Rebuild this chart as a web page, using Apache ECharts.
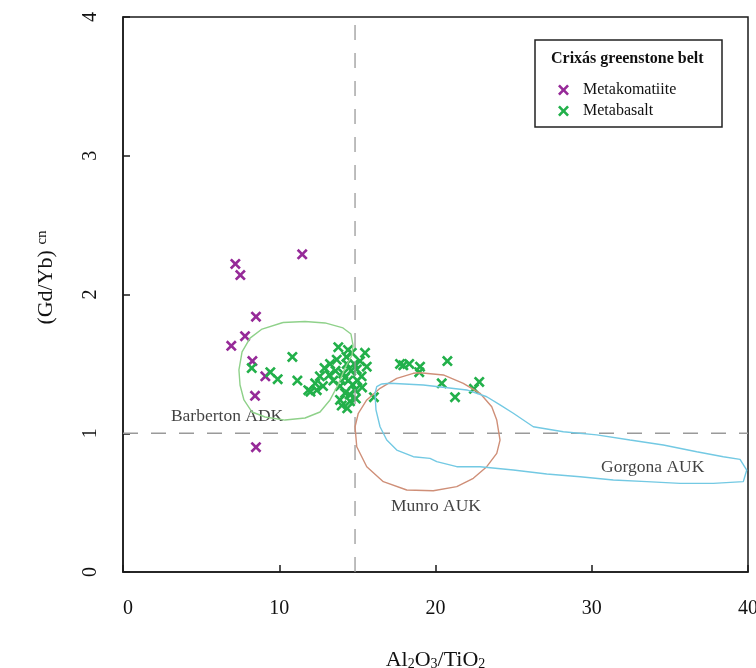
<!DOCTYPE html>
<html>
<head>
<meta charset="utf-8">
<script src="https://cdn.jsdelivr.net/npm/echarts@6/dist/echarts.min.js"></script>
<style>html,body{margin:0;padding:0;background:#fff}#c{width:756px;height:668px}</style>
</head>
<body>
<div id="c"></div>
<script>
// ---- data ----
const xTicks = [0, 10, 20, 30, 40];
const yTicks = [0, 1, 2, 3, 4];
const metakomatiite = [
  [11.47, 2.29], [7.19, 2.22], [7.51, 2.14], [8.51, 1.84], [7.81, 1.70],
  [6.93, 1.63], [8.28, 1.52], [9.11, 1.41], [8.45, 1.27], [8.51, 0.90]
];
const metabasalt = [
  [8.24, 1.47], [9.43, 1.44], [9.90, 1.39], [10.84, 1.55], [11.16, 1.38], [11.86, 1.31],
  [12.00, 1.30], [12.30, 1.36], [12.40, 1.31], [12.60, 1.41], [12.80, 1.34], [12.90, 1.47],
  [13.25, 1.50], [13.46, 1.38], [13.68, 1.53], [13.78, 1.62], [13.89, 1.34], [13.89, 1.24],
  [14.00, 1.20], [14.10, 1.43], [14.21, 1.29], [14.32, 1.50], [14.42, 1.38], [14.53, 1.23],
  [14.64, 1.58], [14.85, 1.31], [14.96, 1.46], [15.17, 1.52], [15.27, 1.41], [15.49, 1.58],
  [15.60, 1.48], [14.30, 1.55], [14.60, 1.45], [14.70, 1.35], [14.20, 1.40], [14.50, 1.28],
  [13.60, 1.45], [15.00, 1.38], [14.80, 1.50], [14.40, 1.60], [15.30, 1.33], [13.20, 1.42],
  [14.90, 1.25], [14.35, 1.18], [16.06, 1.26], [17.73, 1.50], [17.94, 1.49], [18.32, 1.50],
  [19.01, 1.48], [18.96, 1.44], [20.76, 1.52], [20.40, 1.36], [21.25, 1.26], [22.80, 1.37],
  [22.46, 1.32]
];
const barbertonADK = [
  [10.24, 1.798], [11.65, 1.805], [12.93, 1.795], [14.08, 1.759], [14.59, 1.715], [14.72, 1.636],
  [14.66, 1.564], [14.21, 1.470], [13.76, 1.348], [13.25, 1.240], [12.61, 1.153], [11.65, 1.110],
  [10.37, 1.095], [9.09, 1.117], [8.26, 1.153], [7.74, 1.240], [7.49, 1.348], [7.42, 1.456],
  [7.62, 1.586], [8.13, 1.686], [8.90, 1.751], [10.24, 1.798]
];
const munroAUK = [
  [19.01, 1.436], [20.50, 1.420], [21.78, 1.360], [22.85, 1.288], [23.60, 1.191], [23.92, 1.095],
  [24.13, 0.951], [23.92, 0.855], [23.28, 0.759], [22.42, 0.675], [21.36, 0.615], [19.86, 0.586],
  [18.16, 0.591], [16.66, 0.651], [15.60, 0.759], [14.96, 0.903], [14.85, 1.047], [15.06, 1.144],
  [15.60, 1.240], [16.45, 1.324], [17.52, 1.396], [18.58, 1.432], [19.01, 1.436]
];
const gorgonaAUK = [
  [16.56, 1.355], [17.09, 1.360], [19.22, 1.348], [22.00, 1.312], [23.28, 1.263], [24.13, 1.204],
  [24.98, 1.144], [26.26, 1.047], [28.18, 1.011], [30.32, 0.988], [32.45, 0.951], [34.58, 0.915],
  [36.72, 0.867], [38.42, 0.831], [39.49, 0.812], [39.92, 0.735], [39.70, 0.651], [37.78, 0.639],
  [35.65, 0.639], [33.52, 0.651], [31.38, 0.663], [29.25, 0.687], [27.12, 0.706], [24.98, 0.735],
  [22.85, 0.759], [21.36, 0.759], [20.08, 0.795], [19.65, 0.819], [18.58, 0.831], [17.52, 0.879],
  [16.88, 0.951], [16.45, 1.047], [16.19, 1.168], [16.13, 1.288], [16.24, 1.336], [16.56, 1.355]
];
const fieldLabels = [
  { name: 'Barberton ADK', value: [6.66, 1.12] },
  { name: 'Munro AUK', value: [20.03, 0.476] },
  { name: 'Gorgona AUK', value: [33.90, 0.755] }
];
const refX = 14.85;
const refY = 1;

// ---- chart ----
const SERIF = '"Liberation Serif", "DejaVu Serif", serif';
const X_PATH = 'path://M0,17L17,0L50,33L83,0L100,17L67,50L100,83L83,100L50,67L17,100L0,83L33,50Z';
const PURPLE = '#962a98';
const GREEN = '#22b04a';

const chart = echarts.init(document.getElementById('c'), null, { renderer: 'canvas' });
chart.setOption({
  animation: false,
  backgroundColor: '#ffffff',
  grid: {
    left: 123, right: 8, top: 17, bottom: 96, show: true, borderColor: '#1a1a1a', borderWidth: 1.5,
    outerBoundsMode: 'none', containLabel: false
  },
  xAxis: {
    type: 'value', min: xTicks[0], max: xTicks[xTicks.length - 1], interval: 10,
    splitLine: { show: false },
    axisLine: { show: true, lineStyle: { color: '#1a1a1a', width: 1.5 } },
    axisTick: { show: true, inside: true, length: 7, lineStyle: { color: '#1a1a1a', width: 1.5 } },
    axisLabel: { fontFamily: SERIF, fontSize: 20, color: '#111', margin: 27, alignMinLabel: 'left' },
    name: 'Al{sub|2}O{sub|3}/TiO{sub|2}', nameLocation: 'middle', nameGap: 77,
    nameTextStyle: {
      fontFamily: SERIF, fontSize: 22, color: '#111',
      rich: { sub: { fontFamily: SERIF, fontSize: 14, color: '#111', padding: [8, 0, 0, 0] } }
    }
  },
  yAxis: {
    type: 'value', min: yTicks[0], max: yTicks[yTicks.length - 1], interval: 1,
    splitLine: { show: false },
    axisLine: { show: true, lineStyle: { color: '#1a1a1a', width: 1.5 } },
    axisTick: { show: true, inside: true, length: 7, lineStyle: { color: '#1a1a1a', width: 1.5 } },
    axisLabel: { fontFamily: SERIF, fontSize: 20, color: '#111', margin: 22, rotate: 90 },
    name: '(Gd/Yb) {sup|cn}', nameLocation: 'middle', nameGap: 66, nameRotate: 90,
    nameTextStyle: {
      fontFamily: SERIF, fontSize: 22, color: '#111', padding: [0, 0, 0, 34],
      rich: { sup: { fontFamily: SERIF, fontSize: 15, color: '#111', padding: [0, 0, 7, 0] } }
    }
  },
  title: {
    text: 'Crixás greenstone belt', left: 546, top: 46,
    textStyle: { fontFamily: SERIF, fontSize: 16, fontWeight: 'bold', color: '#111' }
  },
  graphic: [{
    type: 'rect', shape: { x: 535, y: 40, width: 187, height: 87 },
    style: { fill: 'rgba(0,0,0,0)', stroke: '#222', lineWidth: 1.5 }, z: 100
  }],
  legend: {
    data: ['Metakomatiite', 'Metabasalt'], orient: 'vertical', left: 553, top: 77,
    itemWidth: 11, itemHeight: 11, itemGap: 5, icon: X_PATH,
    textStyle: { fontFamily: SERIF, fontSize: 16, color: '#111', padding: [0, 0, 0, 9] }
  },
  series: [
    {
      name: 'refV', type: 'line', data: [[refX, 0], [refX, 4]], showSymbol: false, silent: true,
      lineStyle: { color: '#9a9a9a', width: 1.3, type: [15, 13] }
    },
    {
      name: 'refH', type: 'line', data: [[0, refY], [40, refY]], showSymbol: false, silent: true,
      lineStyle: { color: '#9a9a9a', width: 1.3, type: [15, 13] }
    },
    {
      name: 'Metakomatiite', type: 'scatter', data: metakomatiite, symbol: X_PATH, symbolSize: 11,
      itemStyle: { color: PURPLE, opacity: 1 }, emphasis: { disabled: true }
    },
    {
      name: 'Metabasalt', type: 'scatter', data: metabasalt, symbol: X_PATH, symbolSize: 11,
      itemStyle: { color: GREEN, opacity: 1 }, emphasis: { disabled: true }
    },
    {
      name: 'Barberton', type: 'line', data: barbertonADK, showSymbol: false, silent: true,
      lineStyle: { color: '#8fd18a', width: 1.4 }
    },
    {
      name: 'Munro', type: 'line', data: munroAUK, showSymbol: false, silent: true,
      lineStyle: { color: '#cf8f78', width: 1.4 }
    },
    {
      name: 'Gorgona', type: 'line', data: gorgonaAUK, showSymbol: false, silent: true,
      lineStyle: { color: '#73c9e3', width: 1.4 }
    },
    {
      name: 'labels', type: 'scatter', data: fieldLabels, symbolSize: 0, silent: true,
      label: {
        show: true, position: 'inside', formatter: '{b}',
        fontFamily: SERIF, fontSize: 17.5, color: '#111'
      }
    }
  ]
});
</script>
</body>
</html>
